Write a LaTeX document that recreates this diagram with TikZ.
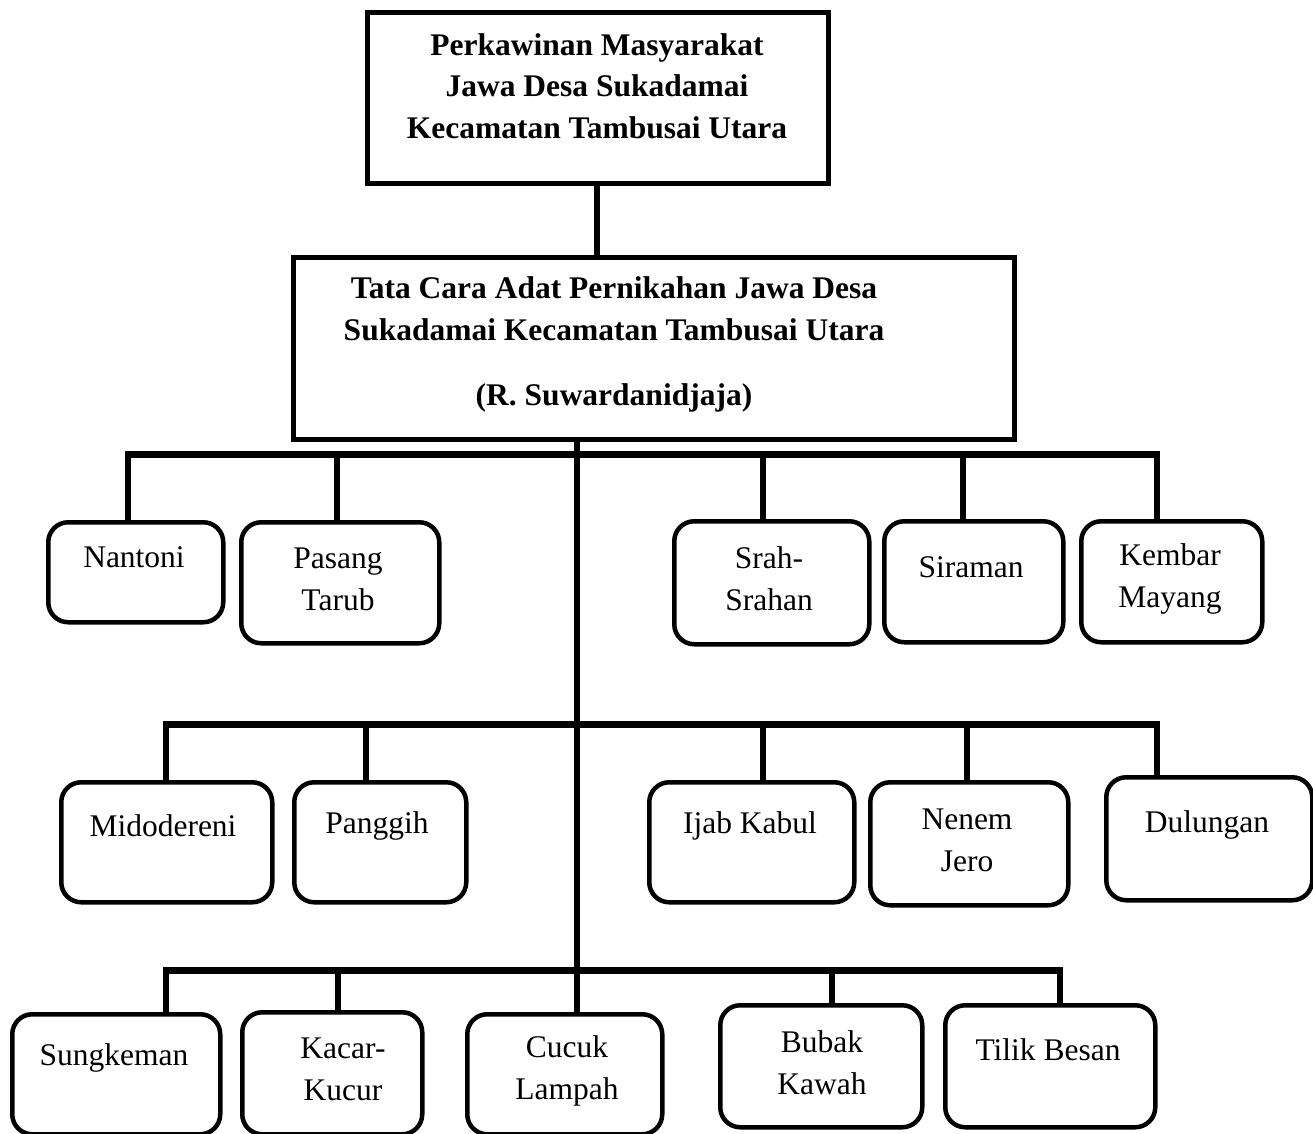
\documentclass[tikz,border=0pt]{standalone}
\usepackage{fontspec}
\setmainfont{Liberation Serif}
\begin{document}
\begin{tikzpicture}[x=1pt,y=-1pt,
  rbox/.style={draw,line width=4.5pt,rounded corners=20pt,inner sep=0pt,anchor=north west},
  sbox/.style={draw,line width=4.5pt,inner sep=0pt,anchor=north west},
  lbl/.style={inner sep=0pt,align=center,font=\fontsize{31.5}{42}\selectfont},
  ttl/.style={inner sep=0pt,align=center,font=\fontsize{31.5}{41.5}\selectfont\bfseries},
  bus/.style={line width=7pt},
  drop/.style={line width=6pt}]
\useasboundingbox (0,0) rectangle (1313,1133);
% title boxes
\node[sbox,minimum width=461pt,minimum height=171pt] (top) at (365,10) {};
\node[ttl] (ttop) at (597,86) {Perkawinan Masyarakat\\Jawa Desa Sukadamai\\Kecamatan Tambusai Utara};
\node[sbox,minimum width=721pt,minimum height=182pt] (mid) at (291,255) {};
\node[ttl] (tmid) at (614,309) {Tata Cara Adat Pernikahan Jawa Desa\\Sukadamai Kecamatan Tambusai Utara};
\node[ttl] (tmid2) at (614,398) {(R. Suwardanidjaja)};
% row 1
\node[rbox,minimum width=175pt,minimum height=100pt] (nantoni) at (46,520) {};
\node[lbl] at (134,557) {Nantoni};
\node[rbox,minimum width=198pt,minimum height=121pt] (pasang) at (239,520) {};
\node[lbl] at (338,579) {Pasang\\Tarub};
\node[rbox,minimum width=195pt,minimum height=123pt] (srah) at (672,519) {};
\node[lbl] at (769,579) {Srah-\\Srahan};
\node[rbox,minimum width=179pt,minimum height=121pt] (siraman) at (882,519) {};
\node[lbl] at (971,567) {Siraman};
\node[rbox,minimum width=181pt,minimum height=121pt] (kembar) at (1079,519) {};
\node[lbl] at (1170,579) {Kembar\\Mayang};
% row 2
\node[rbox,minimum width=211pt,minimum height=120pt] (mido) at (59,780) {};
\node[lbl] at (163,826) {Midodereni};
\node[rbox,minimum width=172pt,minimum height=120pt] (panggih) at (292,780) {};
\node[lbl] at (377,826) {Panggih};
\node[rbox,minimum width=205pt,minimum height=120pt] (ijab) at (647,780) {};
\node[lbl] at (750,826) {Ijab Kabul};
\node[rbox,minimum width=198pt,minimum height=123pt] (nenem) at (868,780) {};
\node[lbl] at (967,840) {Nenem\\Jero};
\node[rbox,minimum width=206pt,minimum height=123pt] (dulungan) at (1104,775) {};
\node[lbl] at (1207,825) {Dulungan};
% row 3
\node[rbox,minimum width=208pt,minimum height=120pt] (sungkem) at (10,1012) {};
\node[lbl] at (114,1058) {Sungkeman};
\node[rbox,minimum width=180pt,minimum height=122pt] (kacar) at (240,1010) {};
\node[lbl] at (343,1069) {Kacar-\\Kucur};
\node[rbox,minimum width=195pt,minimum height=120pt] (cucuk) at (465,1012) {};
\node[lbl] at (567,1071) {Cucuk\\Lampah};
\node[rbox,minimum width=202pt,minimum height=122pt] (bubak) at (718,1003) {};
\node[lbl] at (822,1063) {Bubak\\Kawah};
\node[rbox,minimum width=210pt,minimum height=122pt] (tilik) at (943,1003) {};
\node[lbl] at (1048,1050) {Tilik Besan};
% connectors
\coordinate (t1) at (597,0);
\draw[drop] (top.south -| t1) -- (mid.north -| t1);
\coordinate (trunk) at (577,0);
\draw[drop] (mid.south -| trunk) -- (cucuk.north -| trunk);
% bus 1
\coordinate (b1l) at (128,454);
\coordinate (b1r) at (1157,454);
\draw[bus] ([xshift=-3pt]b1l) -- ([xshift=3pt]b1r);
\coordinate (d12) at (337,454);
\coordinate (d13) at (763,454);
\coordinate (d14) at (963,454);
\draw[drop] (b1l) -- (b1l |- nantoni.north);
\draw[drop] (d12) -- (d12 |- pasang.north);
\draw[drop] (d13) -- (d13 |- srah.north);
\draw[drop] (d14) -- (d14 |- siraman.north);
\draw[drop] (b1r) -- (b1r |- kembar.north);
% bus 2
\coordinate (b2l) at (166,724);
\coordinate (b2r) at (1157,724);
\draw[bus] ([xshift=-3pt]b2l) -- ([xshift=3pt]b2r);
\coordinate (d22) at (366,724);
\coordinate (d23) at (763,724);
\coordinate (d24) at (967,724);
\draw[drop] (b2l) -- (b2l |- mido.north);
\draw[drop] (d22) -- (d22 |- panggih.north);
\draw[drop] (d23) -- (d23 |- ijab.north);
\draw[drop] (d24) -- (d24 |- nenem.north);
\draw[drop] (b2r) -- (b2r |- dulungan.north);
% bus 3
\coordinate (b3l) at (166,970);
\coordinate (b3r) at (1060,970);
\draw[bus] ([xshift=-3pt]b3l) -- ([xshift=3pt]b3r);
\coordinate (d32) at (338,970);
\coordinate (d34) at (832,970);
\draw[drop] (b3l) -- (b3l |- sungkem.north);
\draw[drop] (d32) -- (d32 |- kacar.north);
\draw[drop] (d34) -- (d34 |- bubak.north);
\draw[drop] (b3r) -- (b3r |- tilik.north);
\end{tikzpicture}
\end{document}
